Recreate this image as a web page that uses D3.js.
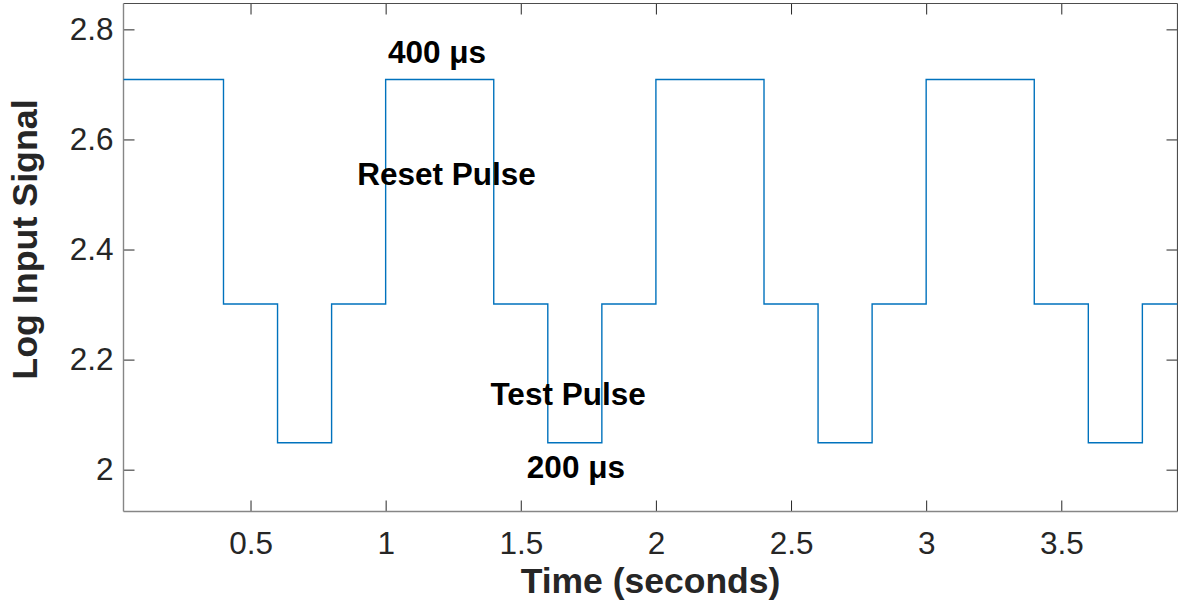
<!DOCTYPE html>
<html>
<head>
<meta charset="utf-8">
<script src="https://cdn.jsdelivr.net/npm/d3@7"></script>
<style>
  html, body { margin: 0; padding: 0; background: #fff; }
  svg { display: block; font-family: "Liberation Sans", Arial, Helvetica, sans-serif; }
</style>
</head>
<body>
<svg id="chart" width="1178" height="603"></svg>
<script>
// Step waveform: breakpoints (seconds) and the log-level held from each breakpoint
const stepTimes  = [0, 0.4, 0.6, 0.8, 1.0, 1.4, 1.6, 1.8, 2.0, 2.4, 2.6, 2.8, 3.0, 3.4, 3.6, 3.8, 3.93];
const stepLevels = [2.709, 2.301, 2.049, 2.301, 2.709, 2.301, 2.049, 2.301, 2.709, 2.301, 2.049, 2.301, 2.709, 2.301, 2.049, 2.301, 2.301];

const xTicks = [0.5, 1, 1.5, 2, 2.5, 3, 3.5];
const yTicks = [2, 2.2, 2.4, 2.6, 2.8];
const xDomain = [0.03, 3.93];
const yDomain = [1.924, 2.847];

// Annotations placed in data coordinates
const noteText = ["400 μs", "Reset Pulse", "Test Pulse", "200 μs"];
const noteX    = [1.19, 1.225, 1.675, 1.704];
const noteY    = [2.739, 2.517, 2.118, 1.985];

const margin = { left: 123.5, top: 3.5, right: 1177.5, bottom: 511.5 };
const svg = d3.select("#chart");

const x = d3.scaleLinear().domain(xDomain).range([margin.left, margin.right]);
const y = d3.scaleLinear().domain(yDomain).range([margin.bottom, margin.top]);

const tickLen = 11;
const tickColor = "#262626";
const tickFont = 31.5;

// Bottom axis (ticks pointing inward)
const gx = svg.append("g").attr("transform", `translate(0,${margin.bottom})`)
  .call(d3.axisBottom(x).tickValues(xTicks).tickSize(-tickLen).tickPadding(20)
        .tickFormat(d => d3.format("")(d)));
gx.select(".domain").remove();
gx.selectAll(".tick line").attr("stroke", tickColor).attr("stroke-width", 1);
gx.selectAll(".tick text").attr("font-size", tickFont).attr("fill", tickColor)
  .attr("font-family", "Liberation Sans, Arial, sans-serif");

// Top axis ticks (box on)
const gxt = svg.append("g").attr("transform", `translate(0,${margin.top})`)
  .call(d3.axisTop(x).tickValues(xTicks).tickSize(-tickLen).tickFormat(""));
gxt.select(".domain").remove();
gxt.selectAll(".tick line").attr("stroke", tickColor).attr("stroke-width", 1);

// Left axis
const gy = svg.append("g").attr("transform", `translate(${margin.left},0)`)
  .call(d3.axisLeft(y).tickValues(yTicks).tickSize(-tickLen).tickPadding(10)
        .tickFormat(d => d3.format("")(d)));
gy.select(".domain").remove();
gy.selectAll(".tick line").attr("stroke", tickColor).attr("stroke-width", 1);
gy.selectAll(".tick text").attr("font-size", tickFont).attr("fill", tickColor)
  .attr("font-family", "Liberation Sans, Arial, sans-serif");

// Right axis ticks
const gyr = svg.append("g").attr("transform", `translate(${margin.right},0)`)
  .call(d3.axisRight(y).tickValues(yTicks).tickSize(-tickLen).tickFormat(""));
gyr.select(".domain").remove();
gyr.selectAll(".tick line").attr("stroke", tickColor).attr("stroke-width", 1);

// Axes box
svg.append("line").attr("x1", margin.left).attr("x2", margin.right)
  .attr("y1", margin.top).attr("y2", margin.top).attr("stroke", "#4d4d4d").attr("stroke-width", 1.2);
svg.append("line").attr("x1", margin.right).attr("x2", margin.right)
  .attr("y1", margin.top).attr("y2", margin.bottom).attr("stroke", "#4d4d4d").attr("stroke-width", 1.2);
svg.append("line").attr("x1", margin.left).attr("x2", margin.right)
  .attr("y1", margin.bottom).attr("y2", margin.bottom).attr("stroke", "#868686").attr("stroke-width", 1.4);
svg.append("line").attr("x1", margin.left).attr("x2", margin.left)
  .attr("y1", margin.top).attr("y2", margin.bottom).attr("stroke", "#868686").attr("stroke-width", 1.4);

// Waveform
svg.append("clipPath").attr("id", "plotArea").append("rect")
  .attr("x", margin.left).attr("y", margin.top)
  .attr("width", margin.right - margin.left).attr("height", margin.bottom - margin.top);

const pts = stepTimes.map((t, i) => [t, stepLevels[i]]);
const line = d3.line().x(d => x(d[0])).y(d => y(d[1])).curve(d3.curveStepAfter);
svg.append("path").datum(pts)
  .attr("clip-path", "url(#plotArea)")
  .attr("d", line)
  .attr("fill", "none")
  .attr("stroke", "#0072BD")
  .attr("stroke-width", 1.4);

// Annotations
svg.append("g").selectAll("text").data(noteText).join("text")
  .attr("x", (d, i) => x(noteX[i]))
  .attr("y", (d, i) => y(noteY[i]))
  .attr("text-anchor", "middle")
  .attr("font-size", 31.5)
  .attr("font-weight", "bold")
  .attr("fill", "#000")
  .text(d => d);

// Axis labels
svg.append("text")
  .attr("x", (margin.left + margin.right) / 2)
  .attr("y", 592.5)
  .attr("text-anchor", "middle")
  .attr("font-size", 35.5)
  .attr("font-weight", "bold")
  .attr("fill", "#262626")
  .text("Time (seconds)");

svg.append("text")
  .attr("transform", "translate(36.5,239.5) rotate(-90)")
  .attr("text-anchor", "middle")
  .attr("font-size", 35.8)
  .attr("font-weight", "bold")
  .attr("fill", "#262626")
  .text("Log Input Signal");
</script>
</body>
</html>
